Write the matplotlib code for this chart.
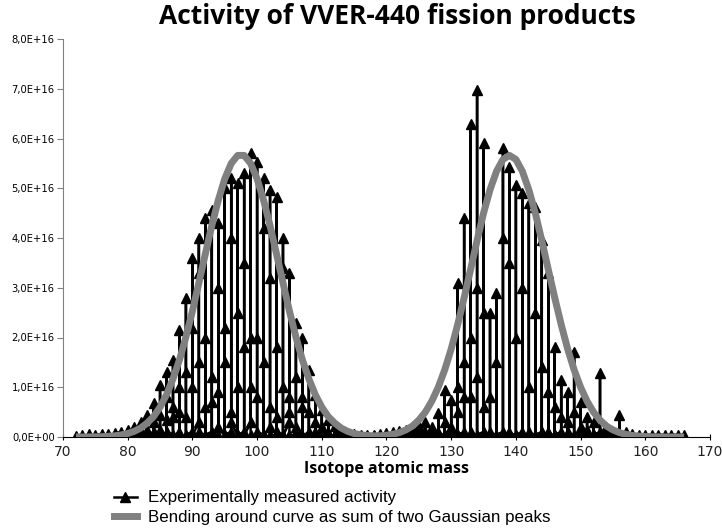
import matplotlib
matplotlib.use("Agg")
import matplotlib.pyplot as plt
from matplotlib.lines import Line2D
from matplotlib.ticker import FuncFormatter, MultipleLocator

# isotope activity per mass number (units of 1E+16), isobars in plotted order
masses = list(range(72, 167))
isobar_activity = [
    [0.0, 0.02], [0.05, 0.01], [0.03, 0.06], [0.01, 0.05], [0.06, 0.02],           # 72-76
    [0.03, 0.07], [0.01, 0.08], [0.1, 0.03], [0.02, 0.15, 0.05], [0.2, 0.1, 0.02],  # 77-81
    [0.05, 0.3, 0.12], [0.02, 0.15, 0.45, 0.05], [0.1, 0.68, 0.3, 0.02],            # 82-84
    [0.05, 0.45, 1.05, 0.15], [0.02, 0.35, 0.8, 1.3, 0.1],                          # 85-86
    [0.05, 0.6, 1.55, 0.4, 0.02], [0.1, 0.5, 1.0, 2.15, 0.05],                      # 87-88
    [0.02, 1.3, 2.8, 0.4, 0.05], [0.1, 1.0, 2.2, 3.6, 0.03],                        # 89-90
    [0.3, 1.5, 3.3, 4.0, 0.1], [0.02, 0.6, 2.0, 4.4, 0.05],                         # 91-92
    [0.1, 1.2, 4.56, 0.7, 0.02], [0.05, 0.9, 3.0, 4.3, 0.2],                        # 93-94
    [0.02, 1.5, 5.0, 2.2, 0.05], [0.1, 0.5, 4.0, 5.2, 0.3],                         # 95-96
    [0.02, 2.5, 5.1, 1.0, 0.05], [0.1, 1.8, 3.5, 5.3, 0.02],                        # 97-98
    [0.3, 2.0, 5.7, 1.0, 0.05], [0.02, 0.8, 5.53, 2.0, 0.1],                        # 99-100
    [0.05, 1.5, 4.2, 5.2, 0.02], [0.2, 3.2, 4.96, 0.6, 0.05],                       # 101-102
    [0.02, 1.8, 4.82, 0.4, 0.1], [0.05, 1.0, 3.4, 4.0, 0.02],                       # 103-104
    [0.3, 0.8, 3.3, 0.5, 0.05], [0.02, 1.2, 2.3, 0.2, 0.1],                         # 105-106
    [0.05, 0.6, 2.0, 0.8, 0.02], [0.1, 0.5, 1.35, 0.05], [0.02, 0.3, 0.85, 0.1],    # 107-109
    [0.05, 0.55, 0.2, 0.02], [0.1, 0.35, 0.05], [0.02, 0.22, 0.05],                 # 110-112
    [0.12, 0.03], [0.02, 0.08], [0.06, 0.01], [0.03, 0.05], [0.01, 0.04],           # 113-117
    [0.05, 0.02], [0.01, 0.06], [0.08, 0.02], [0.03, 0.1], [0.12, 0.04],            # 118-122
    [0.02, 0.15], [0.18, 0.05], [0.02, 0.22, 0.08], [0.1, 0.3, 0.05],               # 123-126
    [0.02, 0.2, 0.1], [0.05, 0.48, 0.1], [0.02, 0.3, 0.95, 0.05], [0.1, 0.75, 0.2], # 127-130
    [0.02, 1.0, 3.1, 0.5, 0.05], [0.1, 1.5, 4.4, 0.8, 0.02],                        # 131-132
    [0.05, 2.0, 6.3, 0.8, 0.1], [0.02, 3.0, 6.97, 1.2, 0.05],                       # 133-134
    [0.1, 2.5, 5.9, 0.6, 0.02], [0.05, 0.8, 2.5, 0.1], [0.02, 1.5, 2.9, 0.05],      # 135-137
    [0.1, 4.0, 5.8, 0.02], [0.05, 3.5, 5.43, 0.1], [0.02, 2.0, 5.07, 0.05],         # 138-140
    [0.1, 3.0, 4.9, 0.02], [0.05, 1.0, 4.7, 0.1], [0.02, 2.5, 4.62, 0.05],          # 141-143
    [0.1, 1.4, 3.96, 0.02], [0.05, 0.9, 3.3, 0.1], [0.02, 0.6, 1.8, 0.05],          # 144-146
    [0.1, 0.4, 1.15, 0.02], [0.05, 0.3, 0.9, 0.1], [0.02, 0.5, 1.7, 0.05],          # 147-149
    [0.1, 0.7, 0.2, 0.02], [0.05, 0.4, 0.15, 0.1], [0.02, 0.3, 0.05],               # 150-152
    [0.1, 1.28, 0.05], [0.02, 0.2, 0.1], [0.05, 0.1, 0.02], [0.05, 0.45, 0.02],     # 153-156
    [0.1, 0.05], [0.03, 0.06], [0.04], [0.05], [0.04], [0.05], [0.04], [0.05],      # 157-164
    [0.04], [0.04],                                                                  # 165-166
]

# enveloping curve read at each mass number (units of 1E+16)
curve_masses = list(range(72, 167))
curve_activity = [
    0.001, 0.001, 0.002, 0.004, 0.007, 0.014, 0.024, 0.042, 0.070, 0.114,
    0.18, 0.28, 0.41, 0.60, 0.85, 1.17, 1.55, 2.01, 2.53, 3.10,
    3.68, 4.25, 4.76, 5.19, 5.50, 5.66, 5.66, 5.50, 5.19, 4.76,
    4.25, 3.68, 3.10, 2.53, 2.01, 1.55, 1.17, 0.85, 0.60, 0.41,
    0.28, 0.18, 0.114, 0.070, 0.045, 0.029, 0.024, 0.025, 0.036, 0.056,
    0.089, 0.143, 0.22, 0.34, 0.50, 0.72, 1.00, 1.35, 1.77, 2.26,
    2.80, 3.37, 3.95, 4.50, 4.97, 5.34, 5.58, 5.66, 5.58, 5.34,
    4.97, 4.50, 3.95, 3.37, 2.80, 2.26, 1.77, 1.35, 1.00, 0.72,
    0.50, 0.34, 0.22, 0.143, 0.089, 0.054, 0.032, 0.018, 0.010, 0.005,
    0.0025, 0.001, 0.0005, 0.0, 0.0,
]

x_exp = []
y_exp = []
for m, vals in zip(masses, isobar_activity):
    for v in vals:
        x_exp.append(m)
        y_exp.append(v)

fig = plt.figure(figsize=(7.22, 5.29), dpi=100)
ax = fig.add_axes([63 / 722, 92 / 529, 647 / 722, 398 / 529])

ax.plot(curve_masses, curve_activity, color="#808080", lw=5, zorder=3,
        solid_capstyle="butt")
ax.plot(x_exp, y_exp, color="black", lw=1.8, marker="^", markersize=6.5,
        zorder=2)

ax.set_xlim(70, 170)
ax.set_ylim(0, 8)
ax.xaxis.set_major_locator(MultipleLocator(10))
ax.yaxis.set_major_locator(MultipleLocator(1))


def ylab(v, pos):
    if v == 0:
        return "0,0E+00"
    return ("%.1f" % v).replace(".", ",") + "E+16"


ax.yaxis.set_major_formatter(FuncFormatter(ylab))
ax.tick_params(axis="y", labelsize=7.2, length=4, color="#808080", pad=2)
ax.tick_params(axis="x", labelsize=10, length=5, direction="inout",
               labelcolor="#222222")
for lab in ax.get_xticklabels() + ax.get_yticklabels():
    lab.set_family("DejaVu Sans")

ax.spines["top"].set_visible(False)
ax.spines["right"].set_visible(False)
ax.spines["left"].set_color("#808080")
ax.spines["bottom"].set_color("black")

fig.text(397 / 722, 1 - 17 / 529, "Activity of VVER-440 fission products",
         ha="center", va="center", fontsize=19, fontweight="bold",
         family="Open Sans")
fig.text(386 / 722, 1 - 469 / 529, "Isotope atomic mass", ha="center",
         va="center", fontsize=11.5, fontweight="bold", family="Open Sans")

handles = [
    Line2D([], [], color="black", lw=1.8, marker="^", markersize=6.5),
    Line2D([], [], color="#808080", lw=5),
]
labels = ["Experimentally measured activity",
          "Bending around curve as sum of two Gaussian peaks"]
fig.legend(handles, labels, loc="upper left",
           bbox_to_anchor=(106 / 722, 1 - 482 / 529), frameon=False,
           prop={"family": "Liberation Sans", "size": 12.2},
           handlelength=1.3, handletextpad=0.7, labelspacing=0.28,
           borderpad=0)

fig.savefig("out.png", dpi=100)
